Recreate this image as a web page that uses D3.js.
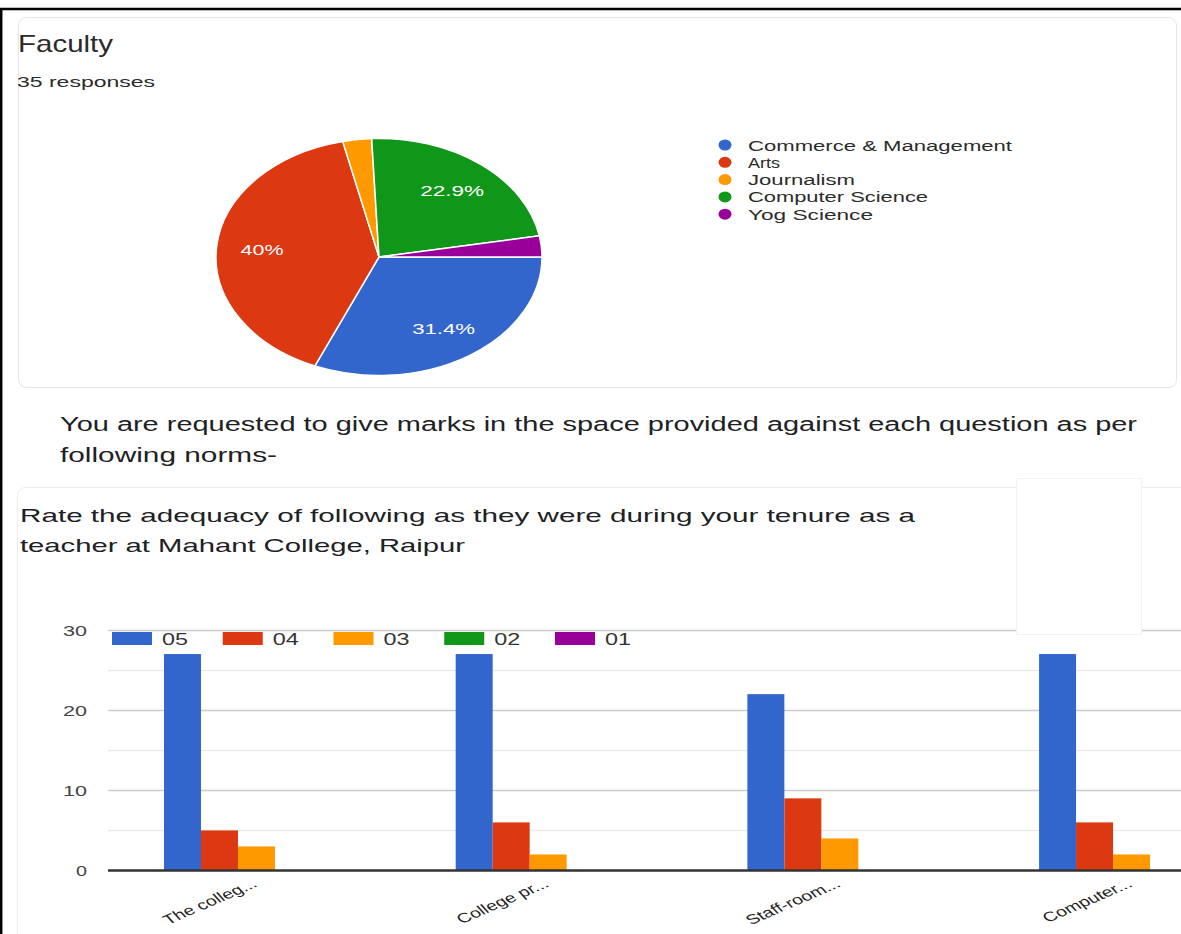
<!DOCTYPE html>
<html>
<head>
<meta charset="utf-8">
<script src="https://cdn.jsdelivr.net/npm/d3@7"></script>
<style>
  html, body { margin: 0; padding: 0; background: #fff; }
  svg { display: block; font-family: "Liberation Sans", Arial, sans-serif; }
</style>
</head>
<body>
<svg id="chart" width="1181" height="934"></svg>
<script>
// ---------- DATA ----------
const pieCategories = ["Commerce & Management", "Arts", "Journalism", "Computer Science", "Yog Science"];
const pieCounts = [11, 14, 1, 8, 1];
const pieColors = ["#3366cc", "#dc3912", "#ff9900", "#109618", "#990099"];

const barCategories = ["The colleg...", "College pr...", "Staff-room...", "Computer..."];
const seriesKeys = ["05", "04", "03", "02", "01"];
const series05 = [27, 27, 22, 27];
const series04 = [5, 6, 9, 6];
const series03 = [3, 2, 4, 2];
const series02 = [0, 0, 0, 0];
const series01 = [0, 0, 0, 0];
const seriesColors = ["#3366cc", "#dc3912", "#ff9900", "#109618", "#990099"];
const yMajorTicks = [0, 10, 20, 30];
const yMinorTicks = [5, 15, 25];

const titleText = "Faculty";
const responsesText = "35 responses";
const descLines = ["You are requested to give marks in the space provided against each question as per", "following norms-"];
const questionLines = ["Rate the adequacy of following as they were during your tenure as a", "teacher at Mahant College, Raipur"];

// ---------- HELPERS ----------
const svg = d3.select("#chart");
const TEXT = "#202124";
function txt(parent, x, y, s, size, len, opts = {}) {
  const t = parent.append("text")
    .attr("x", x).attr("y", y)
    .attr("font-size", size)
    .attr("fill", opts.fill || TEXT)
    .attr("text-anchor", opts.anchor || "start")
    .text(s);
  if (len) t.attr("textLength", len).attr("lengthAdjust", "spacingAndGlyphs");
  if (opts.weight) t.attr("font-weight", opts.weight);
  return t;
}

// ---------- FRAME & CARDS ----------
svg.append("rect").attr("x", 0).attr("y", 0).attr("width", 1181).attr("height", 934).attr("fill", "#fff");
// card 1
svg.append("rect").attr("x", 18.5).attr("y", 17.5).attr("width", 1158).attr("height", 370)
  .attr("rx", 8).attr("fill", "#fff").attr("stroke", "#e6e6e6").attr("stroke-width", 1);
// card 2
svg.append("rect").attr("x", 17.5).attr("y", 487.5).attr("width", 1220).attr("height", 500)
  .attr("rx", 8).attr("fill", "#fff").attr("stroke", "#ededed").attr("stroke-width", 1);
// outer black frame (top + left)
svg.append("line").attr("x1", 0).attr("x2", 1181).attr("y1", 9).attr("y2", 9).attr("stroke", "#000").attr("stroke-width", 2.5);
svg.append("line").attr("x1", 1.2).attr("x2", 1.2).attr("y1", 8).attr("y2", 934).attr("stroke", "#000").attr("stroke-width", 2.5);

// ---------- HEADER ----------
txt(svg, 18, 52, titleText, 24, 95, { fill: "#2b2b2b" });
txt(svg, 17, 87, responsesText, 15, 138, { fill: "#2b2b2b" });

// ---------- PIE ----------
const cx = 379, cy = 257, rx = 163, ry = 118.5;
const yRatio = ry / rx;
const pieData = pieCategories.map((c, i) => ({ cat: c, value: pieCounts[i], color: pieColors[i] }));
const total = d3.sum(pieCounts);
const pie = d3.pie().sort(null).value(d => d.value)
  .startAngle(Math.PI / 2).endAngle(Math.PI / 2 + 2 * Math.PI);
const arcs = pie(pieData);
const arc = d3.arc().innerRadius(0).outerRadius(rx);
const pieG = svg.append("g").attr("transform", `translate(${cx},${cy}) scale(1,${yRatio})`);
pieG.selectAll("path").data(arcs).join("path")
  .attr("d", arc)
  .attr("fill", d => d.data.color)
  .attr("stroke", "#fff")
  .attr("stroke-width", 1.5)
  .attr("vector-effect", "non-scaling-stroke");

const labelArc = d3.arc().innerRadius(rx * 0.72).outerRadius(rx * 0.72);
const pctFmt = v => { const p = v / total * 100; const s = d3.format(".1f")(p); return (s.endsWith(".0") ? s.slice(0, -2) : s) + "%"; };
const pctLens = { "40%": 43, "31.4%": 63, "22.9%": 64 };
arcs.filter(d => d.value / total > 0.05).forEach(d => {
  const [lx, ly] = labelArc.centroid(d);
  const s = pctFmt(d.value);
  txt(svg, cx + lx, cy + ly * yRatio + 5.5, s, 15, pctLens[s] || null, { fill: "#fff", anchor: "middle" });
});

// pie legend
const legLens = [264, 32, 107, 180, 125];
const legG = svg.append("g");
pieData.forEach((d, i) => {
  const y = 145 + i * 17.3;
  legG.append("ellipse").attr("cx", 725).attr("cy", y).attr("rx", 6.5).attr("ry", 5.5).attr("fill", d.color);
  txt(legG, 748, y + 5.5, d.cat, 15.5, legLens[i], { fill: "#2b2b2b" });
});

// ---------- TEXT PARAGRAPHS ----------
txt(svg, 60, 431, descLines[0], 20, 1077, { fill: "#202124" });
txt(svg, 60, 462, descLines[1], 20, 217, { fill: "#202124" });
txt(svg, 20, 522, questionLines[0], 18.5, 895, { fill: "#202124" });
txt(svg, 20, 552, questionLines[1], 18.5, 445, { fill: "#202124" });

// ---------- BAR CHART ----------
const plotLeft = 108;
const x0 = d3.scaleBand().domain(barCategories).range([plotLeft, 1280]).paddingInner(0.366).paddingOuter(0.192);
const x1 = d3.scaleBand().domain(seriesKeys).range([0, x0.bandwidth()]).padding(0);
const y = d3.scaleLinear().domain([0, 30]).range([870.5, 630]);
const seriesValues = [series05, series04, series03, series02, series01];

const chart = svg.append("g");
// minor gridlines
chart.selectAll("line.minor").data(yMinorTicks).join("line")
  .attr("class", "minor")
  .attr("x1", plotLeft).attr("x2", 1181)
  .attr("y1", d => Math.round(y(d)) + 0.5).attr("y2", d => Math.round(y(d)) + 0.5)
  .attr("stroke", "#ebebeb").attr("stroke-width", 1.5);
// major gridlines
chart.selectAll("line.major").data(yMajorTicks.filter(d => d > 0)).join("line")
  .attr("class", "major")
  .attr("x1", plotLeft).attr("x2", 1181)
  .attr("y1", d => Math.round(y(d)) + 0.5).attr("y2", d => Math.round(y(d)) + 0.5)
  .attr("stroke", "#cccccc").attr("stroke-width", 1.5);

// y axis labels
const yAxis = d3.axisLeft(y).tickValues(yMajorTicks).tickSize(0).tickPadding(0);
const yAxisG = chart.append("g").attr("transform", `translate(87,0)`).call(yAxis);
yAxisG.select(".domain").remove();
yAxisG.selectAll("text")
  .attr("font-size", 14).attr("fill", "#444").attr("font-family", "Liberation Sans, Arial, sans-serif")
  .attr("dy", "0.36em")
  .attr("textLength", d => d === 0 ? 11 : 24).attr("lengthAdjust", "spacingAndGlyphs");

// bars
const groups = chart.selectAll("g.grp").data(barCategories).join("g")
  .attr("class", "grp")
  .attr("transform", d => `translate(${x0(d)},0)`);
groups.selectAll("rect").data((d, i) => seriesKeys.map((k, j) => ({ key: k, value: seriesValues[j][i], color: seriesColors[j] })))
  .join("rect")
  .attr("x", d => x1(d.key))
  .attr("y", d => y(d.value))
  .attr("width", x1.bandwidth())
  .attr("height", d => y(0) - y(d.value))
  .attr("fill", d => d.color);

// baseline
chart.append("line").attr("x1", plotLeft).attr("x2", 1181)
  .attr("y1", y(0)).attr("y2", y(0)).attr("stroke", "#333").attr("stroke-width", 2.5);

// x labels (slanted)
barCategories.forEach(c => {
  const cxp = x0(c) + x0.bandwidth() / 2 + 2;
  chart.append("g").attr("transform", `translate(${cxp},886) scale(1.45,1) rotate(-32)`)
    .append("text").attr("text-anchor", "end").attr("font-size", 13.5).attr("fill", "#222").text(c);
});

// white box artefact at top right of card 2
svg.append("rect").attr("x", 1016.5).attr("y", 478.5).attr("width", 125).attr("height", 156)
  .attr("fill", "#fff").attr("stroke", "#f3f3f3").attr("stroke-width", 1);

// bar legend
const blg = chart.append("g");
seriesKeys.forEach((k, i) => {
  const lx = 112 + i * 110.75;
  blg.append("rect").attr("x", lx).attr("y", 632).attr("width", 40).attr("height", 13).attr("fill", seriesColors[i]);
  txt(blg, lx + 50, 644.5, k, 16, 26, { fill: "#333" });
});
</script>
</body>
</html>
